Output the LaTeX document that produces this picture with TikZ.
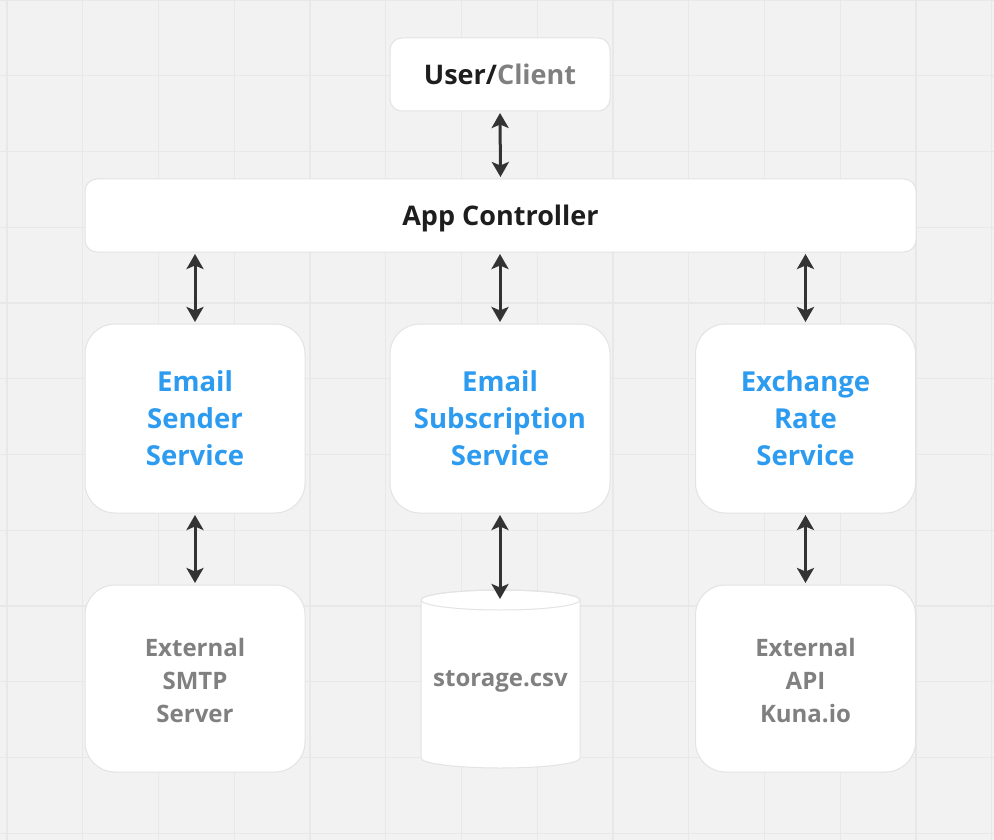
\documentclass[tikz,border=0pt]{standalone}
\usepackage{fontspec}
\setmainfont{Open Sans}
\usetikzlibrary{arrows.meta}
\definecolor{bg}{HTML}{F2F2F2}
\definecolor{gridc}{HTML}{E8E8E8}
\definecolor{edgec}{HTML}{E3E3E3}
\definecolor{bluet}{HTML}{2D9CF0}
\definecolor{grayt}{HTML}{808080}
\definecolor{darkt}{HTML}{1E1E1E}
\definecolor{arrc}{HTML}{333333}
\tikzset{
  box/.style={draw=edgec, line width=1pt, fill=white, align=center, inner sep=0pt},
  smallbox/.style={box, rounded corners=12pt, minimum height=73pt, text height=19.5pt, text depth=0pt, text=darkt, font=\fontsize{27}{32}\selectfont\bfseries},
  svcbox/.style={box, rounded corners=30pt, minimum width=220pt, minimum height=189pt, text=bluet, font=\fontsize{27.5}{37}\selectfont\bfseries},
  extbox/.style={box, rounded corners=30pt, minimum width=220pt, minimum height=187pt, text=grayt, font=\fontsize{24}{33}\selectfont\bfseries},
  arr/.style={draw=arrc, line width=3pt, {Stealth[length=15pt,width=17pt,inset=3.5pt]}-{Stealth[length=15pt,width=17pt,inset=3.5pt]}, shorten <=1.5pt, shorten >=1.5pt},
}
\begin{document}
\begin{tikzpicture}[x=1pt,y=1pt]
\fill[bg] (0,0) rectangle (994,-840);
\useasboundingbox (0,0) rectangle (994,-840);
\foreach \i in {0,...,13} {
  \draw[gridc, line width=1.2pt] ({7+75.75*\i},0) -- ({7+75.75*\i},-840);
}
\foreach \j in {0,...,11} {
  \draw[gridc, line width=1.2pt] (0,{-75.75*\j}) -- (994,{-75.75*\j});
}
\node[smallbox, minimum width=220pt] (user) at (500,-74.5) {User/\textcolor{grayt}{Client}};
\node[smallbox, minimum width=831pt] (app) at (500.5,-215.5) {App Controller};
\node[svcbox] (send) at (195,-418.5) {Email\\Sender\\Service};
\node[svcbox] (subs) at (500,-418.5) {Email\\Subscription\\Service};
\node[svcbox] (rate) at (805.5,-418.5) {Exchange\\Rate\\Service};
\node[extbox] (smtp) at (195,-678.5) {\rule{0pt}{22.5pt}External\\SMTP\\Server};
\node[extbox] (api) at (805.5,-678.5) {\rule{0pt}{22.5pt}External\\API\\Kuna.io};
% cylinder
\fill[white, draw=edgec, line width=1pt] (421,-600) -- (421,-758) arc[start angle=180, end angle=360, x radius=79.5, y radius=10] -- (580,-600) arc[start angle=0, end angle=180, x radius=79.5, y radius=10] -- cycle;
\draw[edgec, line width=1pt] (500.5,-600) ellipse[x radius=79.5, y radius=10];
\node[text=grayt, font=\fontsize{24}{33}\selectfont\bfseries, inner sep=0pt] (db) at (500.5,-681.5) {storage.csv};
\coordinate (dbtop) at (500,-599);
% arrows
\draw[arr] (user.south) -- (app.north);
\draw[arr] (send.north |- app.south) -- (send.north);
\draw[arr] (subs.north |- app.south) -- (subs.north);
\draw[arr] (rate.north |- app.south) -- (rate.north);
\draw[arr] (send.south) -- (smtp.north);
\draw[arr, shorten >=0pt] (subs.south) -- (dbtop);
\draw[arr] (rate.south) -- (api.north);
\end{tikzpicture}
\end{document}
